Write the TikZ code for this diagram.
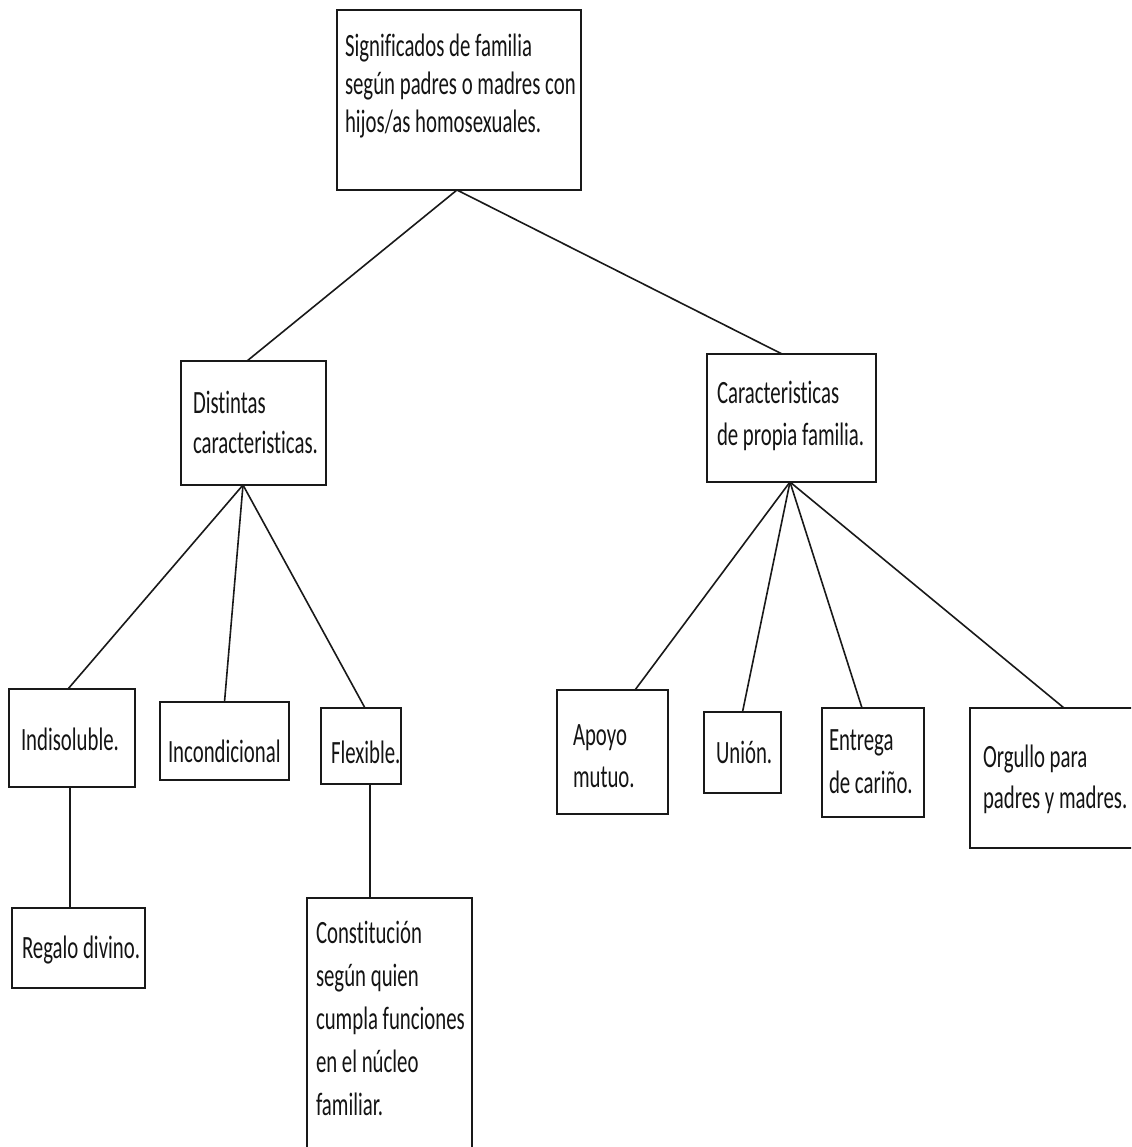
\documentclass[tikz,border=0pt]{standalone}
\usepackage{fontspec}
\setmainfont[FakeStretch=0.64,Ligatures=NoCommon]{Carlito}
\newcommand{\txtlines}[2]{\parbox[t]{300pt}{\fontsize{32.5}{#1}\selectfont\raggedright #2}}
\begin{document}
\begin{tikzpicture}[x=1pt,y=-1pt,
  box/.style={draw=black!90,line width=1.8pt,inner sep=0pt,outer sep=0pt,anchor=north west},
  lbl/.style={anchor=base west,inner sep=0pt,outer sep=0pt,text=black!92},
  link/.style={draw=black!90,line width=1.6pt}]
\useasboundingbox (0,0) rectangle (1131,1147);
\clip (0,0) rectangle (1131,1147);
\fill[white] (0,0) rectangle (1131,1147);
% boxes
\node[box,minimum width=244pt,minimum height=180pt] (top) at (337,10) {};
\node[box,minimum width=145pt,minimum height=124pt] (dist) at (181,361) {};
\node[box,minimum width=169pt,minimum height=128pt] (car) at (707,354) {};
\node[box,minimum width=126pt,minimum height=98pt] (ind) at (9,689) {};
\node[box,minimum width=129pt,minimum height=78pt] (inc) at (160,702) {};
\node[box,minimum width=80pt,minimum height=76pt] (flex) at (321,708) {};
\node[box,minimum width=111pt,minimum height=124pt] (apo) at (557,690) {};
\node[box,minimum width=77pt,minimum height=81pt] (uni) at (704,712) {};
\node[box,minimum width=102pt,minimum height=109pt] (ent) at (822,708) {};
\node[box,minimum width=170pt,minimum height=140pt] (org) at (970,708) {};
\node[box,minimum width=133pt,minimum height=80pt] (reg) at (12,908) {};
\node[box,minimum width=165pt,minimum height=270pt] (con) at (307,898) {};
% texts
\node[lbl] (ttop) at (345,57) {\txtlines{38}{Significados de familia\\según padres o madres con\\hijos/as homosexuales.}};
\node[lbl] (tdist) at (193,413) {\txtlines{40}{Distintas\\caracteristicas.}};
\node[lbl] (tcar) at (717,403) {\txtlines{42}{Caracteristicas\\de propia familia.}};
\node[lbl] (tind) at (21,750) {\txtlines{41}{Indisoluble.}};
\node[lbl] (tinc) at (168,762) {\txtlines{41}{Incondicional}};
\node[lbl] (tflex) at (331,763) {\txtlines{41}{Flexible.}};
\node[lbl] (tapo) at (573,745) {\txtlines{42}{Apoyo\\mutuo.}};
\node[lbl] (tuni) at (716,763) {\txtlines{41}{Unión.}};
\node[lbl] (tent) at (829,750) {\txtlines{43}{Entrega\\de cariño.}};
\node[lbl] (torg) at (983,767) {\txtlines{41}{Orgullo para\\padres y madres.}};
\node[lbl] (treg) at (22,958) {\txtlines{41}{Regalo divino.}};
\node[lbl] (tcon) at (316,943) {\txtlines{43}{Constitución\\según quien\\cumpla funciones\\en el núcleo\\familiar.}};
% connectors
\draw[link] ([xshift=-2pt]top.south) -- ([xshift=-6.5pt]dist.north);
\draw[link] ([xshift=-2pt]top.south) -- ([xshift=-9.5pt]car.north);
\draw[link] ([xshift=-10.5pt]dist.south) -- ([xshift=-4pt]ind.north);
\draw[link] ([xshift=-10.5pt]dist.south) -- (inc.north);
\draw[link] ([xshift=-10.5pt]dist.south) -- ([xshift=4pt]flex.north);
\draw[link] ([xshift=-1.5pt]car.south) -- ([xshift=22.5pt]apo.north);
\draw[link] ([xshift=-1.5pt]car.south) -- (uni.north);
\draw[link] ([xshift=-1.5pt]car.south) -- ([xshift=-11pt]ent.north);
\draw[link] ([xshift=-1.5pt]car.south) -- ([xshift=9pt]org.north);
\draw[link] ([xshift=-2pt]ind.south) -- ([xshift=-8.5pt]reg.north);
\draw[link] ([xshift=9pt]flex.south) -- ([xshift=-19.5pt]con.north);
\end{tikzpicture}
\end{document}
